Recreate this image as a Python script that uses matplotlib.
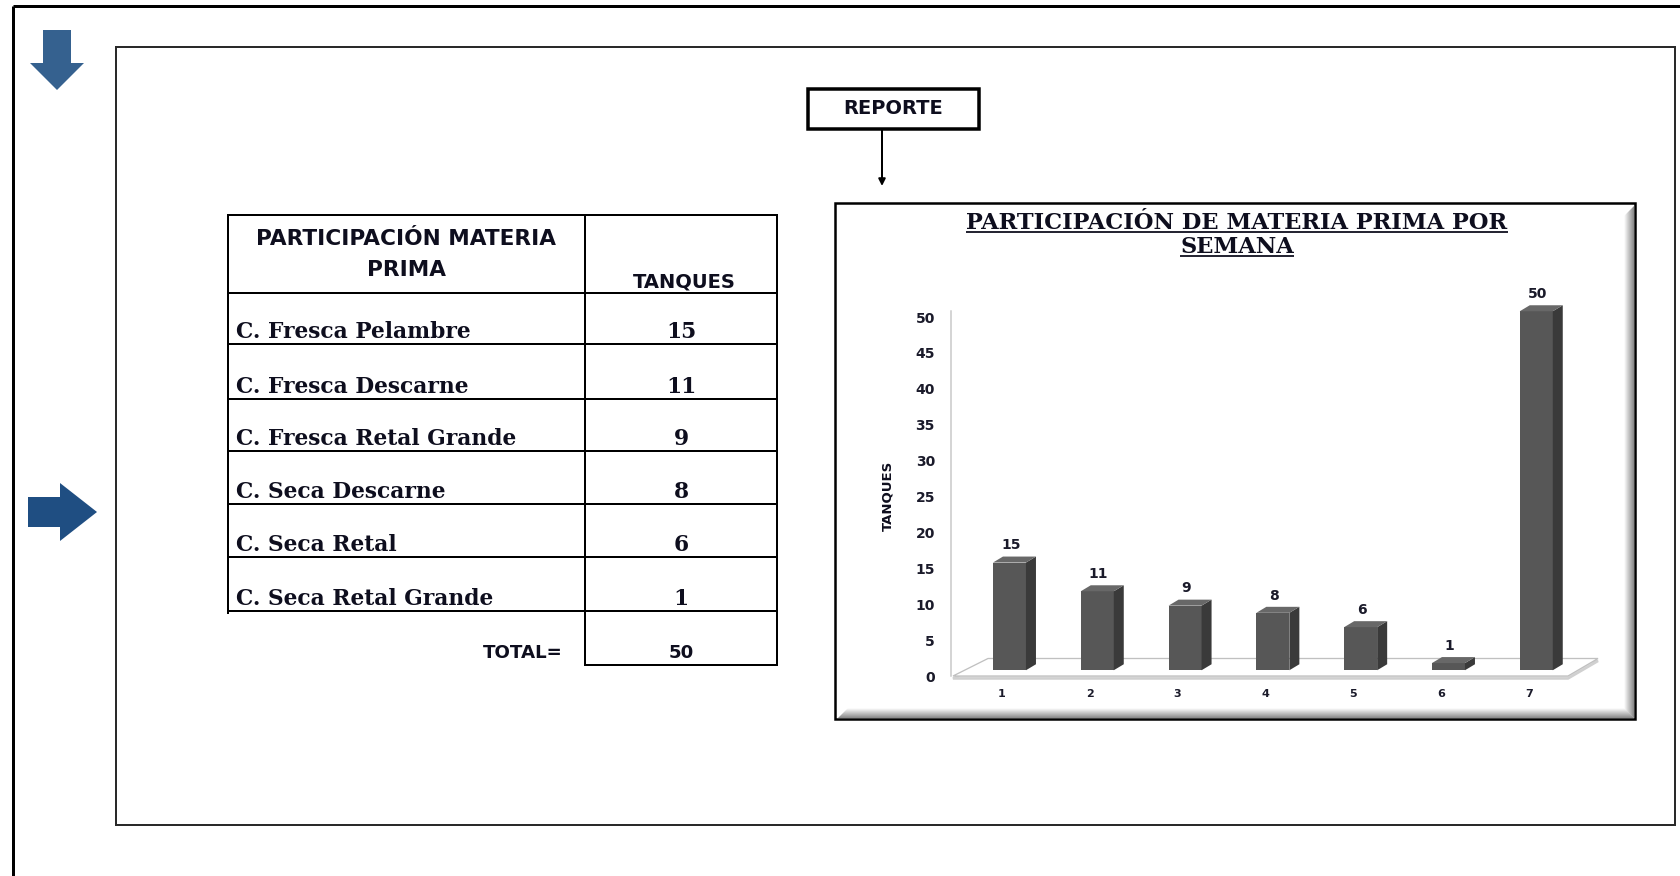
import matplotlib
matplotlib.use('Agg')
import matplotlib.pyplot as plt
from matplotlib.patches import Polygon, Rectangle
import numpy as np

# ---------------- data ----------------
row_labels = ['C. Fresca Pelambre', 'C. Fresca Descarne', 'C. Fresca Retal Grande',
              'C. Seca Descarne', 'C. Seca Retal', 'C. Seca Retal Grande']
row_values = [15, 11, 9, 8, 6, 1]
total_label = 'TOTAL='
total_value = 50
table_header = 'PARTICIPACIÓN MATERIA\nPRIMA'
col_header = 'TANQUES'
chart_title_lines = ['PARTICIPACIÓN DE MATERIA PRIMA POR', 'SEMANA']
bar_categories = ['1', '2', '3', '4', '5', '6', '7']
bar_values = [15, 11, 9, 8, 6, 1, 50]
y_ticks = list(range(0, 55, 5))
y_label = 'TANQUES'
report_label = 'REPORTE'

# ---------------- figure ----------------
W, H, DPI = 1681, 876, 100
fig = plt.figure(figsize=(W / DPI, H / DPI), dpi=DPI)
fig.patch.set_facecolor('white')
bg = fig.add_axes([0, 0, 1, 1])
bg.set_xlim(0, W)
bg.set_ylim(H, 0)
bg.axis('off')

def pt(p):
    return p * 72.0 / DPI

TXT = '#0e0e1e'
SANS = 'DejaVu Sans'
SERIF = 'DejaVu Serif'

# outer frame (top & left only visible)
bg.plot([13, W], [6, 6], color='black', lw=pt(3), solid_capstyle='butt')
bg.plot([13, 13], [6, H], color='black', lw=pt(3), solid_capstyle='butt')
# inner frame
bg.add_patch(Rectangle((116, 47), 1675 - 116, 825 - 47, fill=False, ec='#2a2a2a', lw=pt(2)))

# blue arrows
bg.add_patch(Polygon([(43, 30), (71, 30), (71, 63), (84, 63), (57, 90), (30, 63), (43, 63)],
                     closed=True, fc='#35618f', ec='none'))
bg.add_patch(Polygon([(28, 497), (60, 497), (60, 483), (97, 512), (60, 541), (60, 527), (28, 527)],
                     closed=True, fc='#1f4e82', ec='none'))

# REPORTE box + arrow
bg.add_patch(Rectangle((808, 89), 171, 40, fill=False, ec='black', lw=pt(3.5)))
t_rep = bg.text(893, 109, report_label, ha='center', va='center', family=SANS,
                fontweight='bold', fontsize=11, color=TXT)
bg.annotate('', xy=(882, 186), xytext=(882, 130),
            arrowprops=dict(arrowstyle='-|>', lw=pt(2), color='black', mutation_scale=10,
                            shrinkA=0, shrinkB=0))

# ---------------- table ----------------
TL, TD, TR = 228, 585, 777
T_TOP, T_HEAD = 215, 293
row_bottoms = [344, 399, 451, 504, 557, 611]
T_BOT = 665
lw_t = pt(2)
bg.plot([TL, TR], [T_TOP, T_TOP], color='black', lw=lw_t)
bg.plot([TL, TR], [T_HEAD, T_HEAD], color='black', lw=lw_t)
for yb in row_bottoms:
    bg.plot([TL, TR], [yb, yb], color='black', lw=lw_t)
bg.plot([TL, TL], [T_TOP, row_bottoms[-1] + 2], color='black', lw=lw_t)
bg.plot([TD, TD], [T_TOP, T_BOT], color='black', lw=lw_t)
bg.plot([TR, TR], [T_TOP, T_BOT], color='black', lw=lw_t)
bg.plot([TD, TR], [T_BOT, T_BOT], color='black', lw=lw_t)

hdr_lines = table_header.split('\n')
t_h1 = bg.text((TL + TD) / 2, 245, hdr_lines[0], ha='center', va='baseline', family=SANS,
               fontweight='bold', fontsize=14, color=TXT)
t_h2 = bg.text((TL + TD) / 2, 276, hdr_lines[1], ha='center', va='baseline', family=SANS,
               fontweight='bold', fontsize=14, color=TXT)
t_col = bg.text(684, 287, col_header, ha='center', va='baseline', family=SANS,
                fontweight='bold', fontsize=11, color=TXT)

row_texts = []
num_texts = []
for lab, val, yb in zip(row_labels, row_values, row_bottoms):
    row_texts.append(bg.text(236, yb - 6, lab, ha='left', va='baseline', family=SERIF,
                             fontweight='bold', fontsize=14, color=TXT))
    num_texts.append(bg.text(681, yb - 6, str(val), ha='center', va='baseline', family=SERIF,
                             fontweight='bold', fontsize=14, color=TXT))
t_tot = bg.text(563, 658, total_label, ha='right', va='baseline', family=SANS,
                fontweight='bold', fontsize=11, color=TXT)
t_totv = bg.text(681, 658, str(total_value), ha='center', va='baseline', family=SANS,
                 fontweight='bold', fontsize=11, color=TXT)

# ---------------- chart box ----------------
CB_L, CB_T, CB_R, CB_B = 835, 203, 1635, 719
for i, a in enumerate(np.linspace(0.45, 0.02, 10)):
    bg.plot([CB_R - 2 - i, CB_R - 2 - i], [CB_T + 3 + i, CB_B - 2 - i], color='black',
            alpha=a, lw=pt(1), solid_capstyle='butt')
    bg.plot([CB_L + 3 + i, CB_R - 2 - i], [CB_B - 2 - i, CB_B - 2 - i], color='black',
            alpha=a, lw=pt(1), solid_capstyle='butt')
bg.add_patch(Rectangle((CB_L, CB_T), CB_R - CB_L, CB_B - CB_T, fill=False, ec='black', lw=pt(2.5)))

t_title1 = bg.text(1237, 229, chart_title_lines[0], ha='center', va='baseline', family=SERIF,
                   fontweight='bold', fontsize=15, color=TXT)
t_title2 = bg.text(1237, 253, chart_title_lines[1], ha='center', va='baseline', family=SERIF,
                   fontweight='bold', fontsize=15, color=TXT)

t_ylab = bg.text(888, 496, y_label, rotation=90, ha='center', va='center', family=SANS,
                 fontweight='bold', fontsize=9, color=TXT)

# ---------------- bar chart axes ----------------
X0_PX, X1_PX = 951, 1612
Y0_PX, Y50_PX = 676, 317
CAT1_PX, STEP = 1002, 87.8
PX_PER_UNIT = (Y0_PX - Y50_PX) / 50.0
xlim = (1 - (CAT1_PX - X0_PX) / STEP, 1 + (X1_PX - CAT1_PX) / STEP)
ax = fig.add_axes([X0_PX / W, 1 - Y0_PX / H, (X1_PX - X0_PX) / W, (Y0_PX - Y50_PX) / H])
ax.set_xlim(*xlim)
ax.set_ylim(0, 50)
ax.patch.set_alpha(0)
for s in ax.spines.values():
    s.set_visible(False)

def xd(p):
    return xlim[0] + (p - X0_PX) / STEP

def yd(p):
    return (Y0_PX - p) / PX_PER_UNIT

# floor
floor = [(xd(953), 0), (xd(1568), 0), (xd(1598), yd(658.5)), (xd(988), yd(658.5))]
shadow = [(x, y - 0.35) for x, y in floor]
ax.add_patch(Polygon(shadow, closed=True, fc='#e0e0e0', ec='#d0d0d0', lw=pt(2.5), zorder=1, clip_on=False))
ax.add_patch(Polygon(floor, closed=True, fc='white', ec='#c0c0c0', lw=pt(1.3), zorder=1.5, clip_on=False))
# y axis line
ax.plot([xlim[0], xlim[0]], [0, 50.8], color='#c8c8c8', lw=pt(1.5), clip_on=False, zorder=2)

# bars (pseudo 3D)
xs = np.arange(1, len(bar_values) + 1)
xc = xs + 0.085
half = 16.5 / STEP
ddx = 10 / STEP
ddy = 6 / PX_PER_UNIT
base = 0.8
ax.bar(xc, bar_values, width=2 * half, bottom=base, color='#575757', edgecolor='none',
       zorder=3, clip_on=False)
for x, v in zip(xc, bar_values):
    top = base + v
    xr = x + half
    xl = x - half
    ax.add_patch(Polygon([(xr, base), (xr + ddx, base + ddy), (xr + ddx, top + ddy), (xr, top)],
                         closed=True, fc='#3a3a3a', ec='none', zorder=3, clip_on=False))
    ax.add_patch(Polygon([(xl, top), (xl + ddx, top + ddy), (xr + ddx, top + ddy), (xr, top)],
                         closed=True, fc='#686868', ec='none', zorder=3, clip_on=False))
for x, v in zip(xs, bar_values):
    ax.text(x + 0.1, v + 3.2, str(v), ha='center', va='center', fontsize=10,
            fontweight='bold', color='#1a1a2a', family=SANS, clip_on=False)

ax.set_yticks(y_ticks)
ax.set_yticklabels([str(t) for t in y_ticks])
ax.tick_params(axis='y', length=0, pad=pt(16), labelsize=10, labelcolor='#1a1a2a')
ax.set_xticks(xs)
ax.set_xticklabels(bar_categories)
ax.tick_params(axis='x', length=0, pad=pt(13), labelsize=8, labelcolor='#1a1a2a')
for lab in ax.get_yticklabels() + ax.get_xticklabels():
    lab.set_fontweight('bold')
    lab.set_family(SANS)

# ---------------- fit text sizes ----------------
fig.canvas.draw()
r = fig.canvas.get_renderer()

def fit_w(t, target):
    bb = t.get_window_extent(r)
    f = t.get_fontsize() * target / bb.width
    t.set_fontsize(f)
    return f

def fit_h(t, target):
    bb = t.get_window_extent(r)
    f = t.get_fontsize() * target / bb.height
    t.set_fontsize(f)
    return f

fit_w(t_rep, 100)
fh = fit_w(t_h1, 300)
t_h2.set_fontsize(fh)
fit_w(t_col, 103)
fs = fit_w(row_texts[0], 235)
for t in row_texts + num_texts:
    t.set_fontsize(fs)
ft = fit_w(t_tot, 80)
t_totv.set_fontsize(ft)
fti = fit_w(t_title1, 544)
t_title2.set_fontsize(fti)
fit_h(t_ylab, 70)

fig.canvas.draw()
# underlines for chart title
for t, yb in ((t_title1, 229), (t_title2, 253)):
    bb = t.get_window_extent(r)
    bg.plot([bb.x0, bb.x1], [yb + 3, yb + 3], color=TXT, lw=pt(1.8), solid_capstyle='butt')

fig.savefig('out.png', dpi=DPI, facecolor='white')
